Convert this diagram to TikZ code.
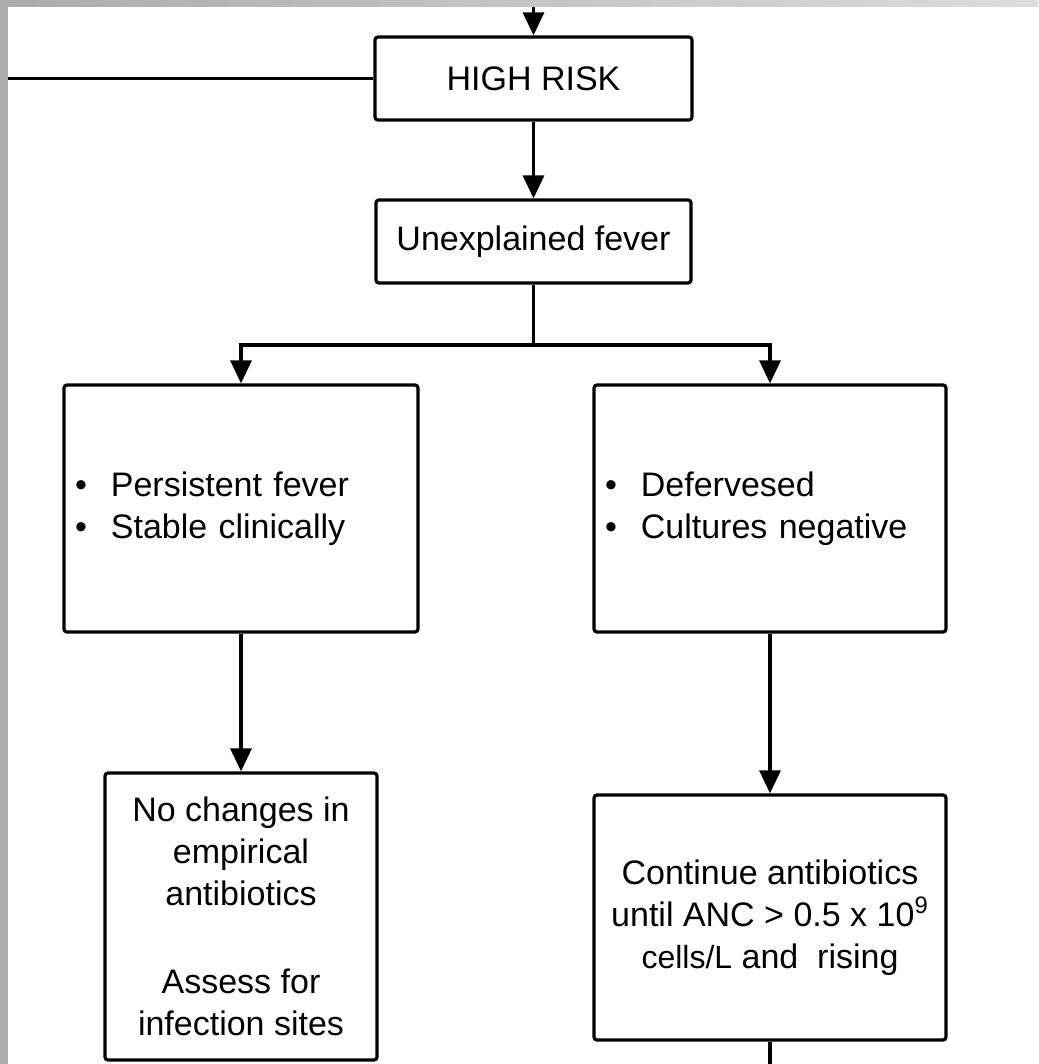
\documentclass[tikz,border=0pt]{standalone}
\usepackage{fontspec}
\setmainfont{Liberation Sans}
\usetikzlibrary{arrows.meta}
\begin{document}
\begin{tikzpicture}[x=0.5pt,y=-0.5pt,
  box/.style={draw,line width=1.6pt,rounded corners=1.5pt,inner sep=0pt,align=center,
    font=\fontsize{17}{21}\selectfont},
  link/.style={line width=1.6pt},
  arr/.style={link,-{Triangle[length=11.5pt,width=10.5pt]}}]
\useasboundingbox (0,0) rectangle (1038,1064);
\fill[white] (0,0) rectangle (1038,1064);
\fill[gray!65] (0,0) rectangle (8,1064);
\shade[left color=gray!65,right color=gray!27] (8,0) rectangle (1038,7);

\node[box,minimum width=158.5pt,minimum height=41.5pt] (risk) at (533.5,78.5) {HIGH RISK};
\node[box,minimum width=157.5pt,minimum height=41.5pt] (fever) at (533.5,241.5) {Unexplained fever};

\node[box,align=left,inner xsep=5.5pt,text width=166pt,minimum height=123.5pt] (persist) at (241,508.5)
  {•\hspace{12pt}Persistent fever\\•\hspace{12pt}Stable clinically};
\node[box,align=left,inner xsep=5.5pt,text width=165pt,minimum height=123.5pt] (defer) at (770,508.5)
  {•\hspace{12pt}Defervesed\\•\hspace{12pt}Cultures negative};

\node[box,minimum width=136pt,minimum height=143.5pt] (nochange) at (241,916.5)
  {No changes in\\empirical\\antibiotics\\[23pt]Assess for\\infection sites};
\node[box,minimum width=176pt,minimum height=122.5pt] (cont) at (770,917.5)
  {Continue antibiotics\\until ANC > 0.5 x 10\textsuperscript{9}\\{\fontsize{16}{21}\selectfont cells/L} and\ \ rising};

\coordinate (top) at (533.5,7);
\coordinate (edge) at (8,78.5);
\coordinate (split) at (533.5,345);
\coordinate (bottom) at (770,1064);

\draw[arr] (top) -- (risk);
\draw[link] (risk) -- (edge);
\draw[arr] (risk) -- (fever);
\draw[link] (fever) -- (split);
\draw[arr] (split) -| (persist);
\draw[arr] (split) -| (defer);
\draw[arr] (persist) -- (nochange);
\draw[arr] (defer) -- (cont);
\draw[link] (cont) -- (bottom);
\end{tikzpicture}
\end{document}
